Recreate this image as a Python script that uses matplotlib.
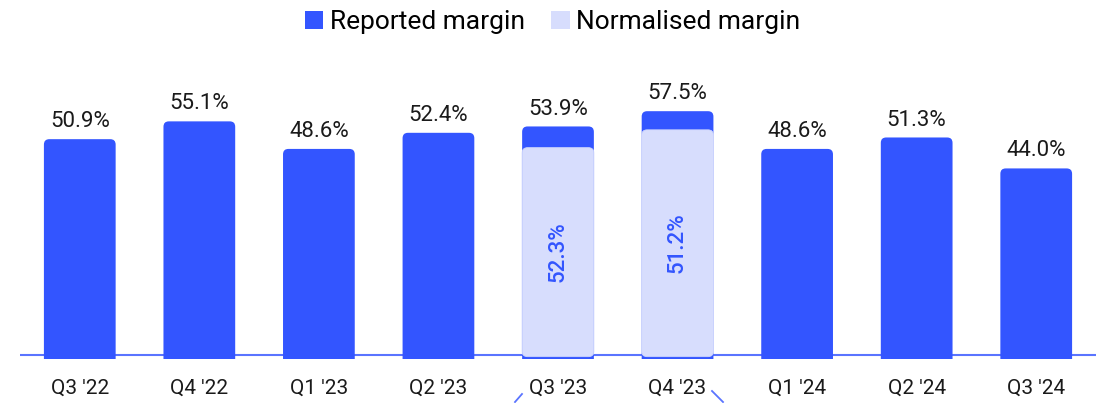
import matplotlib
matplotlib.use('Agg')
import matplotlib.pyplot as plt
from matplotlib.patches import FancyBboxPatch
from matplotlib.lines import Line2D

plt.rcParams['font.family'] = ['Roboto', 'DejaVu Sans']

# data
quarters = ["Q3 '22", "Q4 '22", "Q1 '23", "Q2 '23", "Q3 '23", "Q4 '23", "Q1 '24", "Q2 '24", "Q3 '24"]
reported = [50.9, 55.1, 48.6, 52.4, 53.9, 57.5, 48.6, 51.3, 44.0]
norm_idx = [4, 5]
norm_labels = [52.3, 51.2]
norm_heights = [48.9, 53.1]   # drawn heights as they appear in the picture

BLUE = '#3355ff'
LIGHT = '#d7ddfd'
LINE = '#5a74ff'

fig = plt.figure(figsize=(11.05, 4.03), dpi=100)
ax = fig.add_axes([20 / 1105, 0.1087, 1076 / 1105, 0.6417])
ax.set_xlim(-0.5, 8.5)
ax.set_ylim(-1, 60)

width = 0.6
# y-units per x-unit in pixels, to keep corners round
aspect = (119.5) / 4.24

for i, v in enumerate(reported):
    p = FancyBboxPatch((i - width / 2, -3), width, v + 3,
                       boxstyle='round,pad=0,rounding_size=0.045',
                       mutation_aspect=aspect, fc=BLUE, ec='none', zorder=2)
    ax.add_patch(p)
    ax.annotate(f'{v:.1f}%', (i, v), xytext=(0, 5), textcoords='offset points',
                ha='center', va='bottom', fontsize=16, color='#1a1a1a')

for i, lab, h in zip(norm_idx, norm_labels, norm_heights):
    p = FancyBboxPatch((i - width / 2, -0.4), width, h + 0.4,
                       boxstyle='round,pad=0,rounding_size=0.045',
                       mutation_aspect=aspect, fc=LIGHT, ec='#cdd5fd', lw=0.6, zorder=3)
    ax.add_patch(p)
    ax.text(i, h / 2, f'{lab:.1f}%', rotation=90, ha='center', va='center',
            fontsize=16, fontweight='medium', color=BLUE, zorder=4)

ax.axhline(0, color=LINE, lw=1.5, zorder=1)

ax.set_xticks(range(len(quarters)))
ax.set_xticklabels(quarters, fontsize=15, color='#1a1a1a')
ax.tick_params(axis='x', length=0, pad=14)
ax.set_yticks([])
for s in ax.spines.values():
    s.set_visible(False)

handles = [plt.Rectangle((0, 0), 1, 1, fc=BLUE, ec='none'),
           plt.Rectangle((0, 0), 1, 1, fc=LIGHT, ec='none')]
fig.legend(handles, ['Reported margin', 'Normalised margin'], loc='center',
           bbox_to_anchor=(0.5, 0.945), ncol=2, frameon=False, fontsize=19,
           handlelength=0.7, handleheight=0.7, handletextpad=0.25,
           columnspacing=1.0)

# bracket fragments at the bottom edge
W, H = 1105, 403
for (x0, y0, x1, y1) in [(515, 402, 522, 394), (712, 391, 723, 402)]:
    fig.add_artist(Line2D([x0 / W, x1 / W], [1 - y0 / H, 1 - y1 / H],
                          transform=fig.transFigure, color=LINE, lw=1.3))

fig.savefig('out.png', dpi=100)
